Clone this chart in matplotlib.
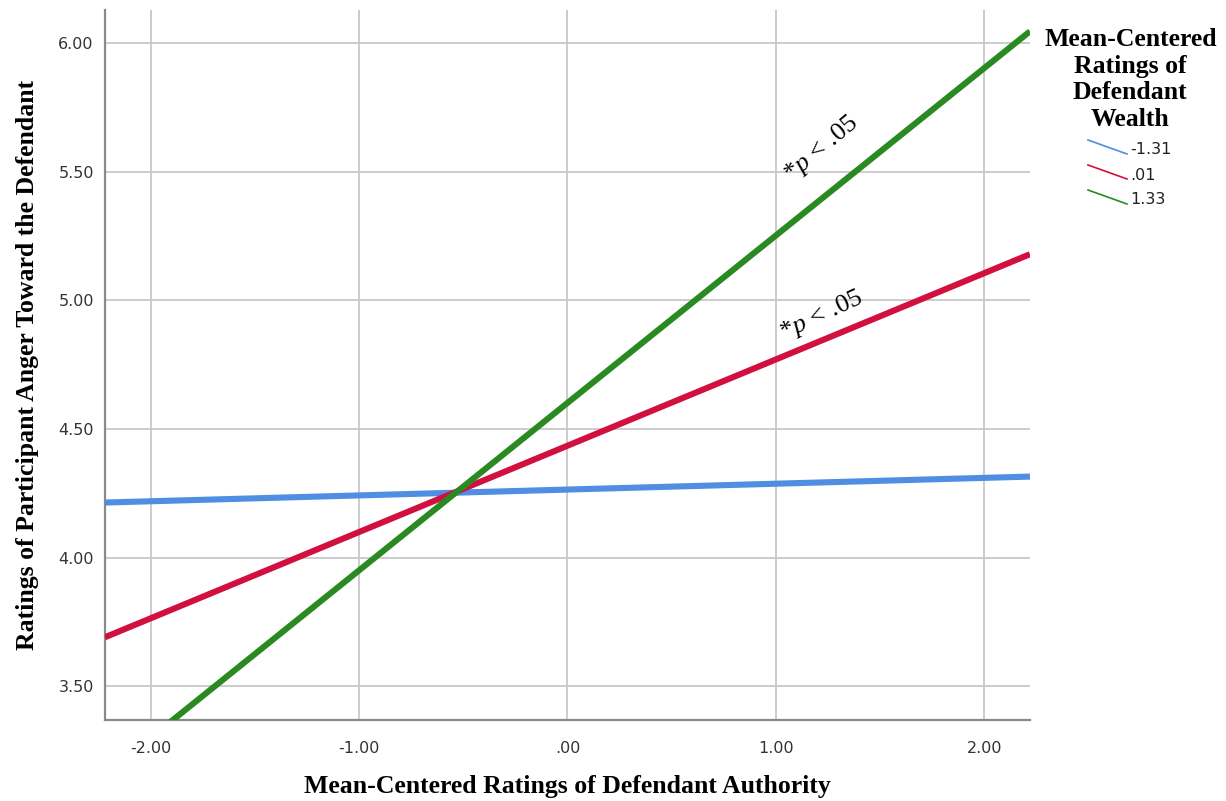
import matplotlib.pyplot as plt
from matplotlib.lines import Line2D

plt.rcParams['mathtext.fontset'] = 'custom'
plt.rcParams['mathtext.rm'] = 'Liberation Serif'
plt.rcParams['mathtext.it'] = 'Liberation Serif:italic'

# simple slopes at the ends of the authority range
authority = [-2.22, 2.22]
wealth_levels = ['-1.31', '.01', '1.33']
anger_low = [4.214, 4.315]
anger_mean = [3.69, 5.18]
anger_high = [3.156, 6.047]
colors = ['#4f8ee3', '#d2103f', '#2a8a22']

x_ticks = [-2, -1, 0, 1, 2]
x_labels = ['-2.00', '-1.00', '.00', '1.00', '2.00']
y_ticks = [3.5, 4.0, 4.5, 5.0, 5.5, 6.0]
y_labels = ['3.50', '4.00', '4.50', '5.00', '5.50', '6.00']

fig = plt.figure(figsize=(12.26, 8.01), dpi=100)
ax = fig.add_axes([0.0856, 0.1011, 0.7545, 0.8864])

series = [anger_low, anger_mean, anger_high]
for ys, c in zip(series, colors):
    ax.plot(authority, ys, color=c, lw=4.4, solid_capstyle='butt', zorder=3)

ax.set_xlim(-2.22, 2.22)
ax.set_ylim(3.368, 6.13)
ax.set_xticks(x_ticks)
ax.set_xticklabels(x_labels)
ax.set_yticks(y_ticks)
ax.set_yticklabels(y_labels)
ax.tick_params(length=0, labelsize=11.5, colors='#333333')
ax.tick_params(axis='x', pad=15)
ax.tick_params(axis='y', pad=8)
ax.grid(True, color='#c8c8c8', lw=1.3)
ax.set_axisbelow(True)
for s in ['top', 'right']:
    ax.spines[s].set_visible(False)
for s in ['left', 'bottom']:
    ax.spines[s].set_color('#8a8a8a')
    ax.spines[s].set_linewidth(1.6)

ax.set_xlabel('Mean-Centered Ratings of Defendant Authority', family='Liberation Serif',
              fontweight='bold', fontsize=18.5, labelpad=14)
ax.set_ylabel('Ratings of Participant Anger Toward the Defendant', family='Liberation Serif',
              fontweight='bold', fontsize=18.5, labelpad=14)

# significance notes along the two steeper slopes
ax.text(1.22, 5.59, r'*$p$ < .05', family='Liberation Serif', fontsize=19,
        rotation=40, ha='center', va='center', rotation_mode='anchor')
ax.text(1.22, 4.94, r'*$p$ < .05', family='Liberation Serif', fontsize=19,
        rotation=25, ha='center', va='center', rotation_mode='anchor')

# legend block on the right
fig.text(0.922, 0.965, 'Mean-Centered\nRatings of\nDefendant\nWealth', family='Liberation Serif',
         fontweight='bold', fontsize=18.5, ha='center', va='top', linespacing=1.2)
W, H = 1226, 801
for i, (lab, c) in enumerate(zip(wealth_levels, colors)):
    y0 = 140 + i * 25
    fig.add_artist(Line2D([1088 / W, 1127 / W], [1 - y0 / H, 1 - (y0 + 14) / H],
                          color=c, lw=1.2))
    fig.text(1130 / W, 1 - (y0 + 10) / H, lab, fontsize=11.5, color='#222222',
             ha='left', va='center')

fig.savefig('out.png', dpi=100)
